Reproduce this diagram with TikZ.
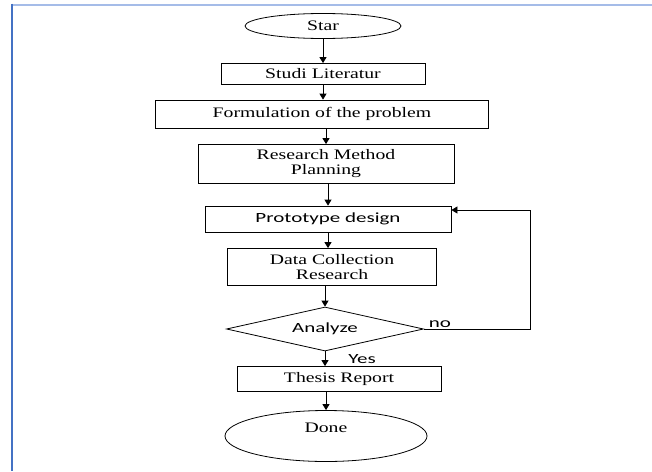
\documentclass[tikz,border=0pt]{standalone}
\usepackage{fontspec}
\setmainfont{Liberation Serif}[FakeStretch=1.36]
\newfontfamily\calib{Carlito}[FakeStretch=1.5]
\usetikzlibrary{shapes.geometric, arrows.meta}
\definecolor{frameleft}{RGB}{68,114,196}
\definecolor{frametop}{RGB}{165,188,232}
\begin{document}
\begin{tikzpicture}[x=1pt, y=-1pt,
    box/.style={draw, line width=0.8pt, inner sep=0pt, align=center,
        font=\fontsize{14.5}{15}\selectfont},
    term/.style={box, ellipse},
    decide/.style={box, diamond, aspect=4.5, font=\calib\fontsize{14}{16}\selectfont},
    arr/.style={line width=0.8pt, -{Triangle[width=7pt, length=6pt]}},
    lbl/.style={font=\calib\fontsize{14}{16}\selectfont, inner sep=1pt}]
    \useasboundingbox (0,0) rectangle (652,471);
    
    % Frame
    \draw[frametop, line width=2pt] (11,4.5) -- (652,4.5);
    \draw[frameleft, line width=2pt] (11.5,3.5) -- (11.5,471);
    
    % Steps
    \node[term, minimum width=156pt, minimum height=25pt] (star) at (323,26) {Star};
    \node[box, minimum width=204pt, minimum height=21pt] (studi) at (323,74) {Studi Literatur};
    \node[box, minimum width=333pt, minimum height=28pt] (form) at (322,114) {Formulation of the problem};
    \node[box, minimum width=256pt, minimum height=39pt] (plan) at (326,164) {Research Method\\Planning};
    \node[box, minimum width=246pt, minimum height=26pt, font=\calib\fontsize{14}{16}\selectfont] (proto) at (328,219) {Prototype design};
    \node[box, minimum width=209pt, minimum height=37pt] (data) at (332,267) {Data Collection\\Research};
    \node[decide, minimum width=197pt, minimum height=44pt] (ana) at (325,329) {Analyze};
    \node[box, minimum width=204pt, minimum height=25pt] (thesis) at (339,379) {Thesis Report};
    \node[term, minimum width=202pt, minimum height=51pt] (done) at (326,436) {\raisebox{4pt}[0pt][0pt]{Done}};
    
    % Flow
    \draw[arr] (star) -- (studi);
    \draw[arr] (studi.south) -- (studi.south |- form.north);
    \draw[arr] (plan.north |- form.south) -- (plan.north);
    \draw[arr] (proto.north |- plan.south) -- (proto.north);
    \draw[arr] (proto.south) -- (proto.south |- data.north);
    \draw[arr] (ana.north |- data.south) -- (ana.north);
    \draw[arr] (ana.south) -- node[lbl, right, xshift=22pt] {Yes} (ana.south |- thesis.north);
    \draw[arr] (done.north |- thesis.south) -- (done.north);
    
    % Loop back
    \coordinate (back) at (530,210);
    \draw[arr] (ana.east) -- node[lbl, above, pos=0.15] {no} (back |- ana.east) -- (back) -- (back -| proto.east);
\end{tikzpicture}
\end{document}
